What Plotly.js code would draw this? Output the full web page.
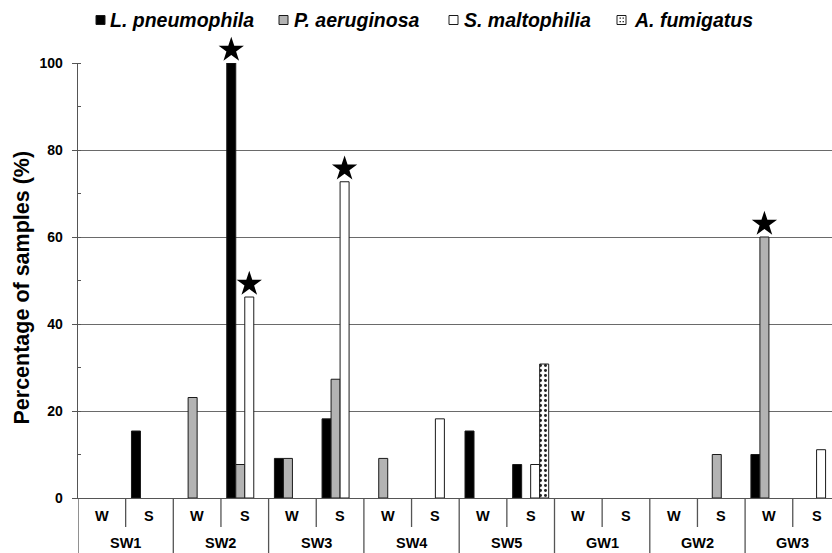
<!DOCTYPE html>
<html>
<head>
<meta charset="utf-8">
<script src="https://cdn.plot.ly/plotly-3.0.1.min.js"></script>
<style>html,body{margin:0;padding:0;background:#fff;}#chart{width:832px;height:553px;}</style>
</head>
<body>
<div id="chart"></div>
<script>
// ---- data ----
const sites = ['SW1', 'SW2', 'SW3', 'SW4', 'SW5', 'GW1', 'GW2', 'GW3'];
const seasons = ['W', 'S'];
const seriesNames = ['L. pneumophila', 'P. aeruginosa', 'S. maltophilia', 'A. fumigatus'];
// values per slot: SW1 W, SW1 S, SW2 W, SW2 S, ... (null = none detected)
const lPneumophila = [null, 15.4, null, 100, 9.1, 18.2, null, null, 15.4, 7.7, null, null, null, null, 10, null];
const pAeruginosa  = [null, null, 23.1, 7.7, 9.1, 27.3, 9.1, null, null, null, null, null, null, 10, 60, null];
const sMaltophilia = [null, null, null, 46.2, null, 72.7, null, 18.2, null, 7.7, null, null, null, null, null, 11.1];
const aFumigatus   = [null, null, null, null, null, null, null, null, null, 30.8, null, null, null, null, null, null];
// significant results marked with a star: series index and slot index
const starSeries = [0, 2, 2, 1];
const starSlot   = [3, 3, 5, 14];
const yTitle = 'Percentage of samples (%)';

// ---- styling ----
const FONT = 'Liberation Sans, Arial, sans-serif';
const seriesValues = [lPneumophila, pAeruginosa, sMaltophilia, aFumigatus];
const fills = ['#000000', '#b3b3b3', '#ffffff', '#ffffff'];
const BARGAP = 0.244;
const slots = [];
sites.forEach((s, i) => seasons.forEach((w, j) => slots.push(i * 2 + j)));

const traces = seriesValues.map((vals, k) => {
  const m = {color: fills[k], line: {color: '#1a1a1a', width: 1}};
  if (k === 3) m.pattern = {shape: '.', fgcolor: '#222', bgcolor: '#fff', size: 5, solidity: 0.28};
  return {type: 'bar', name: seriesNames[k], x: slots, y: vals, marker: m, showlegend: false, hoverinfo: 'skip'};
});

// layout geometry (pixels)
const W = 832, H = 553, ML = 78, MT = 20, MB = 55;
const Y0 = H - MB, Y100 = 63;             // pixel rows of 0 % and 100 %
const PW = W - ML, PH = H - MT - MB;
const D = (Y0 - Y100) / PH;               // main y-axis domain top
const px2x = p => (p - ML) / PW;
const px2y = p => (Y0 - p) / PH;

const bw = (1 - BARGAP) / seriesNames.length;
traces.push({
  type: 'scatter', mode: 'markers', showlegend: false, hoverinfo: 'skip', cliponaxis: false,
  xaxis: 'x', yaxis: 'y2',
  x: starSlot.map((s, i) => s + (starSeries[i] - (seriesNames.length - 1) / 2) * bw),
  y: starSlot.map((s, i) => seriesValues[starSeries[i]][s] + 3),
  marker: {symbol: 'star', size: 19, color: '#000', line: {width: 0}}
});

const shapes = [], annotations = [];
const labFont = {family: FONT, size: 14.5, weight: 'bold', color: '#000'};
// category table below axis
slots.forEach(s => {
  annotations.push({x: s, xref: 'x', y: px2y(516), yref: 'paper', text: seasons[s % 2], showarrow: false,
    xanchor: 'center', yanchor: 'middle', font: labFont});
  if (s % 2 === 1) {
    shapes.push({type: 'line', xref: 'x', yref: 'paper', x0: s - 0.5, x1: s - 0.5, y0: 0, y1: px2y(527),
      line: {color: '#555', width: 1.3}});
  }
});
sites.forEach((site, i) => {
  annotations.push({x: i * 2 + 0.5, xref: 'x', y: px2y(543), yref: 'paper', text: site, showarrow: false,
    xanchor: 'center', yanchor: 'middle', font: labFont});
  shapes.push({type: 'line', xref: 'x', yref: 'paper', x0: i * 2 - 0.5, x1: i * 2 - 0.5, y0: 0, y1: px2y(H),
    line: {color: '#555', width: 1.3}});
});

// y-axis title
annotations.push({x: px2x(21), xref: 'paper', y: px2y(287.5), yref: 'paper', text: yTitle, textangle: -90,
  showarrow: false, xanchor: 'center', yanchor: 'middle', font: {family: FONT, size: 21.5, weight: 'bold', color: '#000'}});

// custom legend
const legSquare = [96, 279, 449, 617];
const legText = [108, 292, 462, 632];
seriesNames.forEach((n, k) => {
  shapes.push({type: 'rect', xref: 'paper', yref: 'paper', x0: px2x(legSquare[k]), x1: px2x(legSquare[k] + 9),
    y0: px2y(24.5), y1: px2y(15.5), line: {color: '#1a1a1a', width: 1}, fillcolor: fills[k]});
  annotations.push({x: px2x(legText[k]), xref: 'paper', y: px2y(20), yref: 'paper', text: n, showarrow: false,
    xanchor: 'left', yanchor: 'middle', font: {family: FONT, size: 19.5, weight: 'bold', style: 'italic', color: '#000'}});
});
// dotted fill inside the A. fumigatus legend square
[[2.5, 17.5], [5.5, 17.5], [2.5, 21], [5.5, 21]].forEach(([dx, dy]) => {
  shapes.push({type: 'rect', xref: 'paper', yref: 'paper', x0: px2x(legSquare[3] + dx), x1: px2x(legSquare[3] + dx + 1.5),
    y0: px2y(dy + 1.2), y1: px2y(dy), line: {width: 0}, fillcolor: '#333'});
});

const layout = {
  width: W, height: H,
  margin: {l: ML, r: 0, t: MT, b: MB, autoexpand: false},
  paper_bgcolor: '#fff', plot_bgcolor: 'rgba(0,0,0,0)',
  barmode: 'group', bargap: BARGAP, bargroupgap: 0,
  showlegend: false,
  xaxis: {range: [-0.5, -0.5 + PW / 47.65], showgrid: false, zeroline: false, showticklabels: false,
    ticks: '', showline: true, linecolor: '#555', linewidth: 1.3, fixedrange: true, anchor: 'y'},
  yaxis: {domain: [0, D], range: [0, 100], dtick: 20, showgrid: true, gridcolor: '#6a6a6a', gridwidth: 1, zeroline: false,
    showline: true, linecolor: '#555', linewidth: 1.3, ticks: 'outside', ticklen: 5, tickcolor: '#555',
    ticklabelstandoff: 6,
    tickfont: {family: FONT, size: 14, weight: 'bold', color: '#000'},
    minor: {dtick: 10, ticks: 'inside', ticklen: 3, tickcolor: '#555', showgrid: false}},
  yaxis2: {domain: [0, 1], range: [0, 100 / D], visible: false, anchor: 'x', fixedrange: true},
  shapes: shapes,
  annotations: annotations
};

Plotly.newPlot('chart', traces, layout, {displayModeBar: false, staticPlot: true});
</script>
</body>
</html>
